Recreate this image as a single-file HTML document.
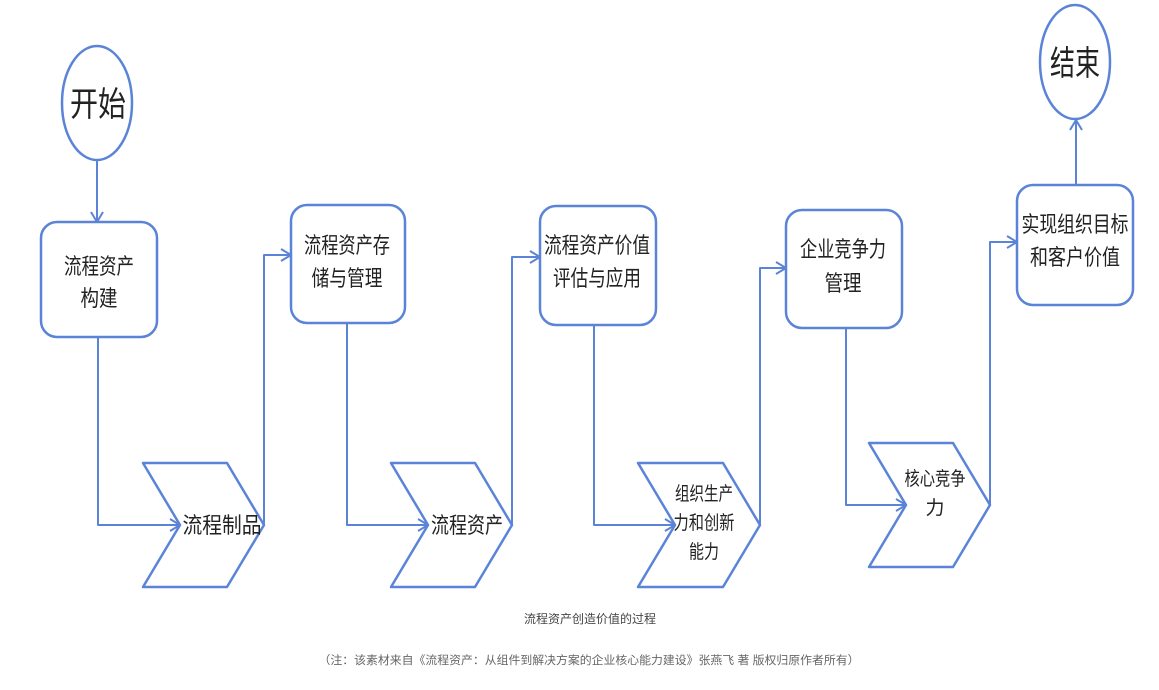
<!DOCTYPE html>
<html><head><meta charset="utf-8"><style>
html,body{margin:0;padding:0;background:#fff;}
svg text{font-family:"Liberation Sans","Noto Sans CJK SC",sans-serif;fill:#222;text-anchor:middle;}
</style></head><body>
<svg width="1159" height="685" viewBox="0 0 1159 685" xmlns="http://www.w3.org/2000/svg">
<g fill="none" stroke="#5b84d8" stroke-width="2.5" stroke-linejoin="round">
<ellipse cx="97" cy="103" rx="35" ry="57"/>
<ellipse cx="1075" cy="62" rx="35" ry="57"/>
<rect x="41" y="222" width="116" height="115" rx="16"/>
<rect x="291" y="205" width="114" height="118" rx="16"/>
<rect x="540" y="206" width="116" height="119" rx="16"/>
<rect x="786" y="210" width="116" height="118" rx="16"/>
<rect x="1017" y="185" width="116" height="120" rx="16"/>
<polygon points="143,463 227,463 264,525 227,587 143,587 180,525"/>
<polygon points="391,463 475,463 512,525 475,587 391,587 428,525"/>
<polygon points="638,463 723,463 760,525 723,587 638,587 675,525"/>
<polygon points="869,443 953,443 990,505 953,567 869,567 906,505"/>
<g stroke-width="2">
<polyline points="97,160 97,222"/><polyline points="91,212 97,222 103,212"/>
<polyline points="98,337 98,525 180,525"/><polyline points="170,519 180,525 170,531"/>
<polyline points="264,525 264,255 291,255"/><polyline points="281,249 291,255 281,261"/>
<polyline points="347,323 347,525 428,525"/><polyline points="418,519 428,525 418,531"/>
<polyline points="512,525 512,257 540,257"/><polyline points="530,251 540,257 530,263"/>
<polyline points="594,325 594,525 675,525"/><polyline points="665,519 675,525 665,531"/>
<polyline points="760,525 760,268 786,268"/><polyline points="776,262 786,268 776,274"/>
<polyline points="846,328 846,505 906,505"/><polyline points="896,499 906,505 896,511"/>
<polyline points="990,505 990,242 1017,242"/><polyline points="1007,236 1017,242 1007,248"/>
<polyline points="1076,185 1076,120"/><polyline points="1070,130 1076,120 1082,130"/>
</g>
</g>
<g lengthAdjust="spacingAndGlyphs">
<text x="98" y="116" font-size="34" textLength="56" lengthAdjust="spacingAndGlyphs">开始</text>
<text x="1075" y="75" font-size="34" textLength="50" lengthAdjust="spacingAndGlyphs">结束</text>
</g>
<g font-size="22">
<text x="99" y="274" textLength="70" lengthAdjust="spacingAndGlyphs">流程资产</text>
<text x="99" y="306" textLength="37" lengthAdjust="spacingAndGlyphs">构建</text>
<text x="347" y="253" textLength="86" lengthAdjust="spacingAndGlyphs">流程资产存</text>
<text x="347" y="286" textLength="71" lengthAdjust="spacingAndGlyphs">储与管理</text>
<text x="597" y="253" textLength="106" lengthAdjust="spacingAndGlyphs">流程资产价值</text>
<text x="597" y="286" textLength="88" lengthAdjust="spacingAndGlyphs">评估与应用</text>
<text x="843" y="257" textLength="86" lengthAdjust="spacingAndGlyphs">企业竞争力</text>
<text x="843" y="291" textLength="37" lengthAdjust="spacingAndGlyphs">管理</text>
<text x="1075" y="232" textLength="107" lengthAdjust="spacingAndGlyphs">实现组织目标</text>
<text x="1075" y="265" textLength="90" lengthAdjust="spacingAndGlyphs">和客户价值</text>
<text x="222" y="533" textLength="79" lengthAdjust="spacingAndGlyphs">流程制品</text>
<text x="467" y="533" textLength="72" lengthAdjust="spacingAndGlyphs">流程资产</text>
</g>
<g font-size="19">
<text x="704" y="500" textLength="58" lengthAdjust="spacingAndGlyphs">组织生产</text>
<text x="704" y="529" textLength="61" lengthAdjust="spacingAndGlyphs">力和创新</text>
<text x="704" y="558" textLength="30" lengthAdjust="spacingAndGlyphs">能力</text>
<text x="935" y="485" textLength="61" lengthAdjust="spacingAndGlyphs">核心竞争</text>
<text x="935" y="514">力</text>
</g>
<text x="590" y="623" font-size="12" style="fill:#444">流程资产创造价值的过程</text>
<text x="589" y="664" font-size="11.5" style="fill:#666" textLength="541" lengthAdjust="spacingAndGlyphs">（注：该素材来自《流程资产：从组件到解决方案的企业核心能力建设》张燕飞 著  版权归原作者所有）</text>
</svg>
</body></html>
